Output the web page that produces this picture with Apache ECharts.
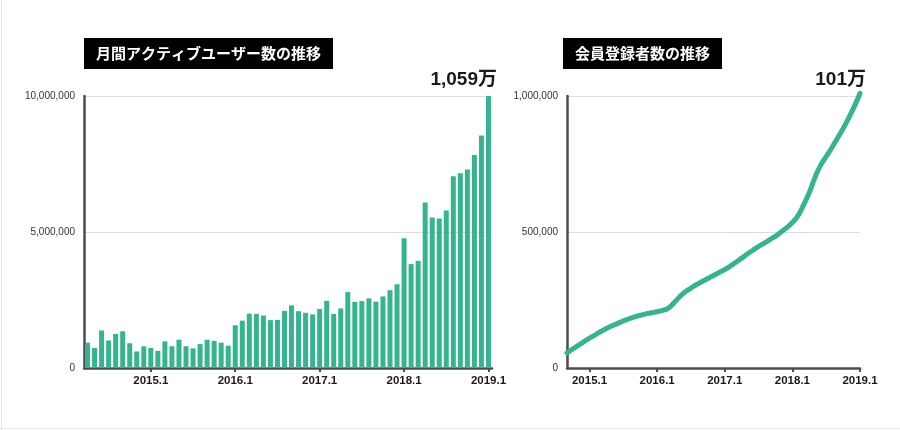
<!DOCTYPE html>
<html>
<head>
<meta charset="utf-8">
<script src="https://cdn.jsdelivr.net/npm/echarts@6/dist/echarts.min.js"></script>
<style>
html,body{margin:0;padding:0;background:#fff;}
#wrap{position:relative;width:900px;height:430px;overflow:hidden;}
#chart{position:absolute;left:0;top:0;width:900px;height:430px;}
.bl{position:absolute;left:1px;top:0;width:1px;height:430px;background:#e6e6e6;}
.bb{position:absolute;left:0;top:428px;width:900px;height:1px;background:#e6e6e6;}
</style>
</head>
<body>
<div id="wrap"><div id="chart"></div><div class="bl"></div><div class="bb"></div></div>
<script>
// ---- Left chart: monthly active users ----
const mauTitle = '月間アクティブユーザー数の推移';
const mauMonths = [
  '2014.4','2014.5','2014.6','2014.7','2014.8','2014.9','2014.10','2014.11','2014.12',
  '2015.1','2015.2','2015.3','2015.4','2015.5','2015.6','2015.7','2015.8','2015.9','2015.10','2015.11','2015.12',
  '2016.1','2016.2','2016.3','2016.4','2016.5','2016.6','2016.7','2016.8','2016.9','2016.10','2016.11','2016.12',
  '2017.1','2017.2','2017.3','2017.4','2017.5','2017.6','2017.7','2017.8','2017.9','2017.10','2017.11','2017.12',
  '2018.1','2018.2','2018.3','2018.4','2018.5','2018.6','2018.7','2018.8','2018.9','2018.10','2018.11','2018.12',
  '2019.1'
];
const mauValues = [
  930000, 740000, 1380000, 1010000, 1250000, 1350000, 910000, 610000, 800000,
  740000, 630000, 980000, 800000, 1040000, 800000, 720000, 880000, 1040000, 1000000, 930000, 820000,
  1570000, 1740000, 2000000, 1990000, 1930000, 1760000, 1770000, 2100000, 2300000, 2090000, 2030000, 1970000,
  2170000, 2470000, 1990000, 2190000, 2790000, 2430000, 2460000, 2560000, 2440000, 2630000, 2860000, 3080000,
  4770000, 3820000, 3940000, 6080000, 5530000, 5500000, 5790000, 7050000, 7160000, 7300000, 7830000, 8550000,
  10590000
];
const mauAxisMax = 10000000;
const mauAxisStep = 5000000;

// ---- Right chart: registered members ----
const memberTitle = '会員登録者数の推移';
const memberMonths = [
  '2014.9','2014.10','2014.11','2014.12',
  '2015.1','2015.2','2015.3','2015.4','2015.5','2015.6','2015.7','2015.8','2015.9','2015.10','2015.11','2015.12',
  '2016.1','2016.2','2016.3','2016.4','2016.5','2016.6','2016.7','2016.8','2016.9','2016.10','2016.11','2016.12',
  '2017.1','2017.2','2017.3','2017.4','2017.5','2017.6','2017.7','2017.8','2017.9','2017.10','2017.11','2017.12',
  '2018.1','2018.2','2018.3','2018.4','2018.5','2018.6','2018.7','2018.8','2018.9','2018.10','2018.11','2018.12',
  '2019.1'
];
const memberValues = [
  55000, 70000, 83000, 97000,
  110000, 122000, 134000, 145000, 155000, 164000, 173000, 181000, 188000, 194000, 199000, 203000,
  207000, 212000, 220000, 240000, 262000, 280000, 294000, 307000, 318000, 329000, 340000, 351000,
  362000, 375000, 389000, 404000, 419000, 433000, 447000, 459000, 472000, 485000, 500000, 516000,
  535000, 560000, 600000, 645000, 700000, 745000, 777000, 810000, 845000, 880000, 920000, 962000,
  1010000
];
const memberAxisMax = 1000000;
const memberAxisStep = 500000;

// ---- tick labels shown on the x axes ----
const yearTicks = ['2015.1','2016.1','2017.1','2018.1','2019.1'];

const GREEN = '#35b48f';
const AXIS = '#4d4d4d';
const LATIN = "'Liberation Sans', Arial, 'Noto Sans CJK JP', sans-serif";
const CJK = "'Noto Sans CJK JP', 'Liberation Sans', sans-serif";

function man(v){ return Math.round(v/10000).toLocaleString('en-US') + '万'; }
function isYear(idx, val){ return yearTicks.indexOf(val) >= 0; }

function xAxisCfg(gridIndex, data, gap){
  return {
    type: 'category', gridIndex: gridIndex, data: data, boundaryGap: gap,
    axisLine: { show: true, lineStyle: { color: AXIS, width: 2.5 } },
    axisTick: { show: true, alignWithLabel: true, length: 4, interval: isYear, lineStyle: { color: AXIS, width: 2 } },
    axisLabel: { interval: isYear, margin: 7, color: '#1a1a1a', fontSize: 11.5, fontWeight: 'bold', fontFamily: LATIN },
    splitLine: { show: false }
  };
}
function yAxisCfg(gridIndex, max, step){
  return {
    type: 'value', gridIndex: gridIndex, min: 0, max: max, interval: step,
    axisLine: { show: true, lineStyle: { color: AXIS, width: 2.5 } },
    axisTick: { show: false },
    axisLabel: { margin: 9, color: '#333', fontSize: 10, fontFamily: LATIN,
      formatter: function(v){ return v.toLocaleString('en-US'); } },
    splitLine: { show: true, lineStyle: { color: '#dddddd', width: 1 } }
  };
}

const chart = echarts.init(document.getElementById('chart'), null, { renderer: 'canvas' });
chart.setOption({
  animation: false,
  backgroundColor: '#ffffff',
  title: [
    { text: mauTitle, left: 84, top: 38, padding: [6, 12, 7, 12], backgroundColor: '#000',
      textStyle: { color: '#fff', fontSize: 15, fontWeight: 'bold', fontFamily: CJK, lineHeight: 18 } },
    { text: memberTitle, left: 563, top: 38, padding: [6, 12, 7, 12], backgroundColor: '#000',
      textStyle: { color: '#fff', fontSize: 15, fontWeight: 'bold', fontFamily: CJK, lineHeight: 18 } },
    { text: man(mauValues[mauValues.length - 1]), right: 403, top: 70, padding: 0,
      textStyle: { color: '#1a1a1a', fontSize: 19, fontWeight: 'bold', fontFamily: LATIN } },
    { text: man(memberValues[memberValues.length - 1]), right: 34, top: 70, padding: 0,
      textStyle: { color: '#1a1a1a', fontSize: 19, fontWeight: 'bold', fontFamily: LATIN } }
  ],
  grid: [
    { left: 84, right: 408, top: 96, bottom: 62, containLabel: false },
    { left: 567, right: 40, top: 96, bottom: 62, containLabel: false }
  ],
  xAxis: [ xAxisCfg(0, mauMonths, true), xAxisCfg(1, memberMonths, false) ],
  yAxis: [ yAxisCfg(0, mauAxisMax, mauAxisStep), yAxisCfg(1, memberAxisMax, memberAxisStep) ],
  series: [
    { type: 'bar', xAxisIndex: 0, yAxisIndex: 0, data: mauValues, barWidth: 5, clip: true,
      itemStyle: { color: GREEN }, z: 1 },
    { type: 'line', xAxisIndex: 1, yAxisIndex: 1, data: memberValues, smooth: true, showSymbol: false,
      symbol: 'none', clip: false, lineStyle: { color: GREEN, width: 5, cap: 'round' }, z: 1 }
  ]
});
</script>
</body>
</html>
